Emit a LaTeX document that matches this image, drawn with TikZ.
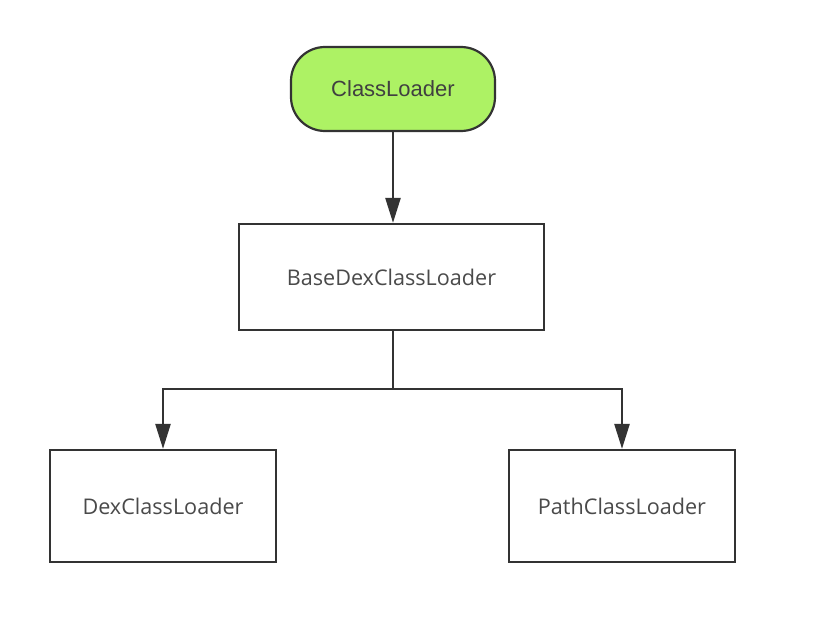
\documentclass[tikz,border=0pt]{standalone}
\usepackage{fontspec}
\setmainfont{Open Sans}
\newfontfamily\arialfont{Liberation Sans}
\usetikzlibrary{arrows.meta}
\definecolor{lgreen}{HTML}{ADF264}
\definecolor{edge}{HTML}{333333}
\definecolor{txt}{HTML}{4A4A4A}
\begin{document}
\begin{tikzpicture}[x=1pt,y=-1pt,
  box/.style={draw=edge,line width=2.2pt,fill=white,minimum width=#1,inner sep=0pt,text=txt,font=\fontsize{21.6}{24}\selectfont},
  conn/.style={draw=edge,line width=2.4pt,-{Triangle[length=25pt,width=15pt]}}]
\useasboundingbox (0,0) rectangle (822,626);
\node[box=204pt,minimum height=84pt,rounded corners=34pt,fill=lgreen,font=\arialfont\fontsize{22}{24}\selectfont,text=black!75] (cl) at (393,89) {ClassLoader};
\node[box=305pt,minimum height=106pt] (base) at (391.5,277) {BaseDexClassLoader};
\node[box=226pt,minimum height=112pt] (dex) at (163,506) {DexClassLoader};
\node[box=226pt,minimum height=112pt] (path) at (622,506) {PathClassLoader};
\coordinate (j) at (393,389);
\draw[conn] (cl.south -| j) -- (base.north -| j);
\draw[conn] (base.south -| j) -- (j) -| (dex.north);
\draw[conn] (j) -| (path.north);
\end{tikzpicture}
\end{document}
